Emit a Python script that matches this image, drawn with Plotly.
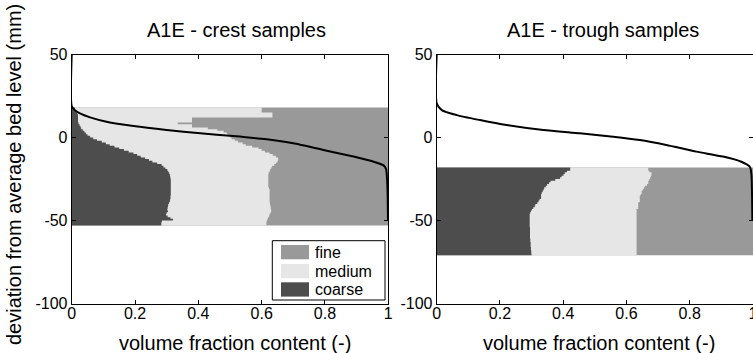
import plotly.graph_objects as go

W, H = 753, 353
FONT = "Liberation Sans"

# ---------------- data ----------------
depth_crest = [18, 17, 16, 15, 14, 13, 12, 11, 10, 9, 8, 7, 6, 5, 4, 3, 2, 1, 0,
               -1, -2, -3, -4, -5, -6, -7, -8, -9, -10, -11, -12, -13, -14, -15,
               -16, -17, -18, -19, -20, -21, -22, -23, -24, -25, -26, -27, -28,
               -29, -30, -31, -32, -33, -34, -35, -36, -37, -38, -39, -40, -41,
               -42, -43, -44, -45, -46, -47, -48, -49, -50, -51, -52, -53]
# cumulative fraction: coarse
crest_coarse = [0.010, 0.012, 0.015, 0.018, 0.020, 0.020, 0.020, 0.020, 0.020, 0.022,
                0.025, 0.028, 0.030, 0.035, 0.040, 0.045, 0.050, 0.058, 0.068,
                0.080, 0.095, 0.108, 0.120, 0.135, 0.150, 0.165, 0.180, 0.195,
                0.207, 0.218, 0.232, 0.244, 0.255, 0.270, 0.284, 0.290, 0.296,
                0.302, 0.305, 0.308, 0.310, 0.311, 0.312, 0.313, 0.313, 0.313,
                0.313, 0.313, 0.313, 0.313, 0.313, 0.313, 0.313, 0.312, 0.312,
                0.311, 0.310, 0.307, 0.305, 0.304, 0.303, 0.302, 0.304, 0.300,
                0.298, 0.303, 0.312, 0.320, 0.285, 0.283, 0.283, 0.283]
# cumulative fraction: coarse + medium
crest_coarse_medium = [0.600, 0.600, 0.600, 0.634, 0.634, 0.634, 0.380, 0.380, 0.380,
                       0.335, 0.380, 0.380, 0.430, 0.460, 0.480, 0.490, 0.495, 0.500,
                       0.505, 0.515, 0.525, 0.540, 0.550, 0.570, 0.590, 0.600, 0.610,
                       0.625, 0.635, 0.645, 0.652, 0.652, 0.650, 0.645, 0.640, 0.633,
                       0.630, 0.627, 0.625, 0.622, 0.621, 0.621, 0.621, 0.621, 0.621,
                       0.621, 0.621, 0.621, 0.623, 0.625, 0.625, 0.625, 0.625, 0.625,
                       0.625, 0.625, 0.625, 0.626, 0.627, 0.628, 0.629, 0.630, 0.630,
                       0.628, 0.625, 0.623, 0.620, 0.618, 0.616, 0.615, 0.615, 0.615]

depth_trough = [-18, -19, -20, -21, -22, -23, -24, -25, -26, -27, -28, -29, -30,
                -31, -32, -33, -34, -35, -36, -37, -38, -39, -40, -41, -42, -43,
                -44, -45, -46, -47, -48, -49, -50, -51, -52, -53, -54, -55, -56,
                -57, -58, -59, -60, -61, -62, -63, -64, -65, -66, -67, -68, -69,
                -70, -71]
trough_coarse = [0.422, 0.422, 0.412, 0.405, 0.401, 0.395, 0.390, 0.375, 0.360,
                 0.355, 0.349, 0.345, 0.340, 0.338, 0.335, 0.332, 0.330, 0.330,
                 0.330, 0.325, 0.322, 0.318, 0.312, 0.310, 0.305, 0.301, 0.298,
                 0.295, 0.294, 0.294, 0.294, 0.294, 0.294, 0.294, 0.294, 0.294,
                 0.295, 0.295, 0.295, 0.295, 0.295, 0.295, 0.295, 0.296, 0.296,
                 0.297, 0.297, 0.297, 0.298, 0.298, 0.299, 0.299, 0.300, 0.300]
trough_coarse_medium = [0.669, 0.669, 0.672, 0.679, 0.679, 0.677, 0.675, 0.672, 0.669,
                        0.669, 0.665, 0.658, 0.655, 0.652, 0.648, 0.648, 0.645, 0.642,
                        0.642, 0.642, 0.642, 0.637, 0.637, 0.637, 0.637, 0.632, 0.632,
                        0.632, 0.632, 0.632, 0.632, 0.632, 0.632, 0.632, 0.632, 0.632,
                        0.632, 0.632, 0.632, 0.632, 0.632, 0.632, 0.632, 0.632, 0.632,
                        0.632, 0.632, 0.632, 0.632, 0.632, 0.632, 0.632, 0.632, 0.632]

# bed-level exceedance curve (black line)
crest_curve_x = [0.0, 0.0, 0.010, 0.026, 0.058, 0.110, 0.195, 0.300, 0.406, 0.510,
                 0.616, 0.700, 0.795, 0.890, 0.954, 0.985, 0.993, 0.996, 0.998, 0.999]
crest_curve_y = [50, 19, 16.5, 14.5, 12.1, 9.5, 6.9, 4.5, 2.5, 0.9,
                 -1.1, -3.5, -7.5, -11.5, -14.6, -16.8, -19, -25, -35, -50]
trough_curve_x = [0.0, 0.0, 0.016, 0.063, 0.137, 0.221, 0.337, 0.453, 0.558, 0.642,
                  0.726, 0.821, 0.905, 0.963, 0.990, 0.995, 0.997, 0.998]
trough_curve_y = [50, 20.6, 16.5, 13.5, 10.5, 7.5, 4.5, 2.5, 0.5, -1.5,
                  -4.5, -8.5, -11.5, -14.6, -17.6, -22, -35, -50]

panel_titles = ["A1E - crest samples", "A1E - trough samples"]
x_title = "volume fraction content (-)"
y_title = "deviation from average bed level (mm)"
x_tickvals = [0, 0.2, 0.4, 0.6, 0.8, 1]
x_ticktext = ["0", "0.2", "0.4", "0.6", "0.8", "1"]
y_tickvals = [-100, -50, 0, 50]
y_ticktext = ["-100", "-50", "0", "50"]
legend_labels = ["fine", "medium", "coarse"]

COL = {"fine": "#999999", "medium": "#e6e6e6", "coarse": "#4d4d4d"}

# ---------------- figure ----------------
fig = go.Figure()


def add_panel(xa, ya, depth, coarse, coarse_medium, cx, cy):
    # fine layer spans the whole row, medium and coarse drawn over it
    layers = [("fine", [1.0] * len(depth)), ("medium", coarse_medium), ("coarse", coarse)]
    for name, xs in layers:
        fig.add_trace(go.Scatter(
            x=xs, y=depth, xaxis=xa, yaxis=ya, mode="lines",
            line=dict(width=0, shape="vh", color=COL[name]),
            fill="tozerox", fillcolor=COL[name],
            name=name, showlegend=False, hoverinfo="skip"))
    fig.add_trace(go.Scatter(
        x=cx, y=cy, xaxis=xa, yaxis=ya, mode="lines",
        line=dict(color="black", width=2, shape="spline", smoothing=0.6),
        showlegend=False, hoverinfo="skip"))


add_panel("x", "y", depth_crest, crest_coarse, crest_coarse_medium, crest_curve_x, crest_curve_y)
add_panel("x2", "y2", depth_trough, trough_coarse, trough_coarse_medium, trough_curve_x, trough_curve_y)


def px_x(p):
    return p / W


def px_y(p):
    return 1 - p / H


axis_common = dict(showline=True, linecolor="black", linewidth=1, mirror="ticks",
                   ticks="inside", ticklen=4, tickcolor="black", tickwidth=1,
                   showgrid=False, zeroline=False, automargin=False,
                   ticklabeloverflow="allow",
                   tickfont=dict(family=FONT, size=16, color="black"))

ydom = [px_y(303.5), px_y(54.5)]
fig.update_layout(
    width=W, height=H, margin=dict(l=0, r=0, t=0, b=0),
    paper_bgcolor="white", plot_bgcolor="white",
    xaxis=dict(domain=[px_x(71.7), px_x(388.3)], range=[0, 1], anchor="y",
               tickvals=x_tickvals, ticktext=x_ticktext, ticklabelstandoff=-5,
               **axis_common),
    yaxis=dict(domain=ydom, range=[-100, 50], anchor="x",
               tickvals=y_tickvals, ticktext=y_ticktext, **axis_common),
    xaxis2=dict(domain=[px_x(436.7), 1.0], range=[0, 1], anchor="y2",
                tickvals=x_tickvals, ticktext=x_ticktext, ticklabelstandoff=-5,
                **axis_common),
    yaxis2=dict(domain=ydom, range=[-100, 50], anchor="x2",
                tickvals=y_tickvals, ticktext=y_ticktext, **axis_common),
    showlegend=False,
)

ann = []
tfont = dict(family=FONT, size=20, color="black")
ann.append(dict(text=panel_titles[0], x=px_x(236), y=px_y(30), xref="paper", yref="paper",
                xanchor="center", yanchor="middle", showarrow=False, font=tfont))
ann.append(dict(text=panel_titles[1], x=px_x(603), y=px_y(30), xref="paper", yref="paper",
                xanchor="center", yanchor="middle", showarrow=False, font=tfont))
ann.append(dict(text=x_title, x=px_x(235), y=px_y(342.5), xref="paper", yref="paper",
                xanchor="center", yanchor="middle", showarrow=False, font=tfont))
ann.append(dict(text=x_title, x=px_x(599), y=px_y(342.5), xref="paper", yref="paper",
                xanchor="center", yanchor="middle", showarrow=False, font=tfont))
ann.append(dict(text=y_title, x=px_x(14), y=px_y(175), xref="paper", yref="paper",
                xanchor="center", yanchor="middle", textangle=-90, showarrow=False, font=tfont))

# legend box (drawn manually to reproduce the wide swatches)
shapes = [dict(type="rect", xref="paper", yref="paper",
               x0=px_x(272.3), x1=px_x(385), y0=px_y(300), y1=px_y(240.7),
               line=dict(color="black", width=1), fillcolor="white", layer="above")]
row_tops = [245, 264, 282.3]
for lab, top in zip(legend_labels, row_tops):
    shapes.append(dict(type="rect", xref="paper", yref="paper",
                       x0=px_x(281), x1=px_x(309), y0=px_y(top + 14.3), y1=px_y(top),
                       line=dict(width=0), fillcolor=COL[lab], layer="above"))
    ann.append(dict(text=lab, x=px_x(313), y=px_y(top + 7.2), xref="paper", yref="paper",
                    xanchor="left", yanchor="middle", showarrow=False,
                    font=dict(family=FONT, size=16, color="black")))

fig.update_layout(annotations=ann, shapes=shapes)
fig.write_html("out.html")
